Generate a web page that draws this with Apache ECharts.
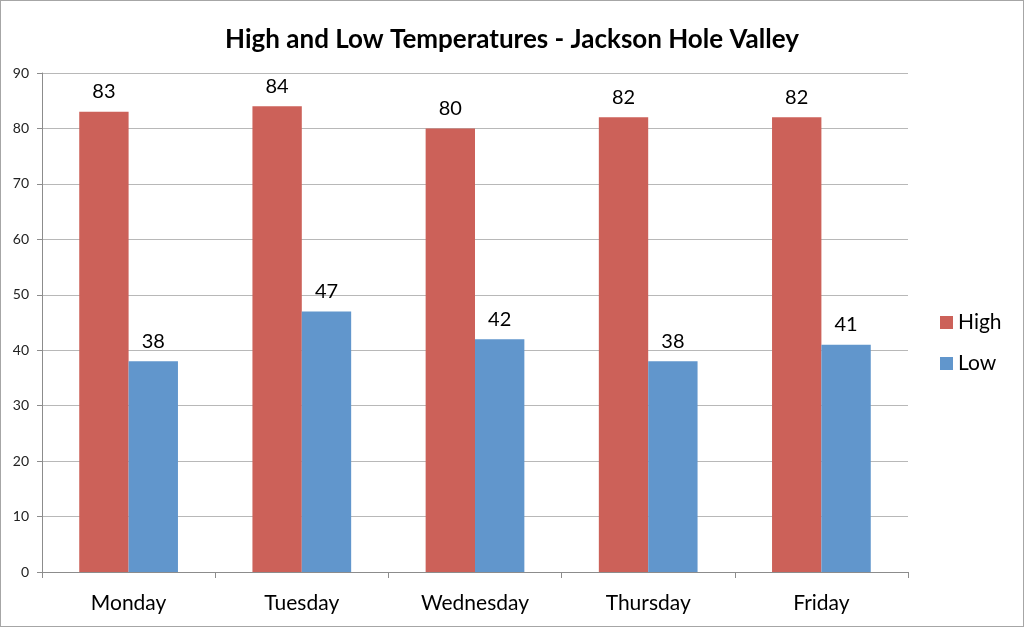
<!DOCTYPE html>
<html>
<head>
<meta charset="utf-8">
<script src="https://cdn.jsdelivr.net/npm/echarts@6/dist/echarts.min.js"></script>
<style>
  html, body { margin: 0; padding: 0; background: #fff; }
  #chart { position: absolute; left: 0; top: 0; width: 1022px; height: 625px; border: 1px solid #a6a6a6; }
</style>
</head>
<body>
<div id="chart"></div>
<script>
const days = ["Monday", "Tuesday", "Wednesday", "Thursday", "Friday"];
const highTemps = [83, 84, 80, 82, 82];
const lowTemps = [38, 47, 42, 38, 41];

const chart = echarts.init(document.getElementById("chart"));

const labelStyle = {
  show: true,
  position: "top",
  distance: 10,
  color: "#000",
  fontSize: 20,
  fontFamily: "Lato, 'Noto Sans', sans-serif",
};

const option = {
  animation: false,
  title: {
    text: "High and Low Temperatures - Jackson Hole Valley",
    left: "center",
    top: 21,
    textStyle: {
      fontSize: 26,
      fontWeight: "bold",
      color: "#000",
      fontFamily: "Lato, 'Noto Sans', sans-serif",
    },
  },
  legend: {
    orient: "vertical",
    left: 934,
    top: 306,
    itemWidth: 13,
    itemHeight: 13,
    itemGap: 20,
    icon: "rect",
    textStyle: {
      fontSize: 21,
      color: "#000",
      fontFamily: "Lato, 'Noto Sans', sans-serif",
    },
    data: ["High", "Low"],
  },
  grid: {
    left: 41,
    top: 72,
    width: 866,
    height: 499,
    containLabel: false,
  },
  xAxis: {
    type: "category",
    data: days,
    axisLine: { lineStyle: { color: "#8c8c8c" } },
    axisTick: { show: true, length: 6, lineStyle: { color: "#8c8c8c" } },
    axisLabel: {
      color: "#000",
      fontSize: 21,
      margin: 21,
      fontFamily: "Lato, 'Noto Sans', sans-serif",
    },
  },
  yAxis: {
    type: "value",
    min: 0,
    max: 90,
    interval: 10,
    axisLine: { show: true, lineStyle: { color: "#8c8c8c" } },
    axisTick: { show: true, length: 5, lineStyle: { color: "#8c8c8c" } },
    splitLine: { lineStyle: { color: "#b8b8b8" } },
    axisLabel: {
      color: "#222",
      fontSize: 14,
      margin: 13,
      fontFamily: "Lato, 'Noto Sans', sans-serif",
    },
  },
  series: [
    {
      name: "High",
      type: "bar",
      data: highTemps,
      barGap: "0%",
      barCategoryGap: "43%",
      itemStyle: { color: "#cc6159" },
      label: labelStyle,
    },
    {
      name: "Low",
      type: "bar",
      data: lowTemps,
      itemStyle: { color: "#6196cc" },
      label: labelStyle,
    },
  ],
};

chart.setOption(option);
</script>
</body>
</html>
